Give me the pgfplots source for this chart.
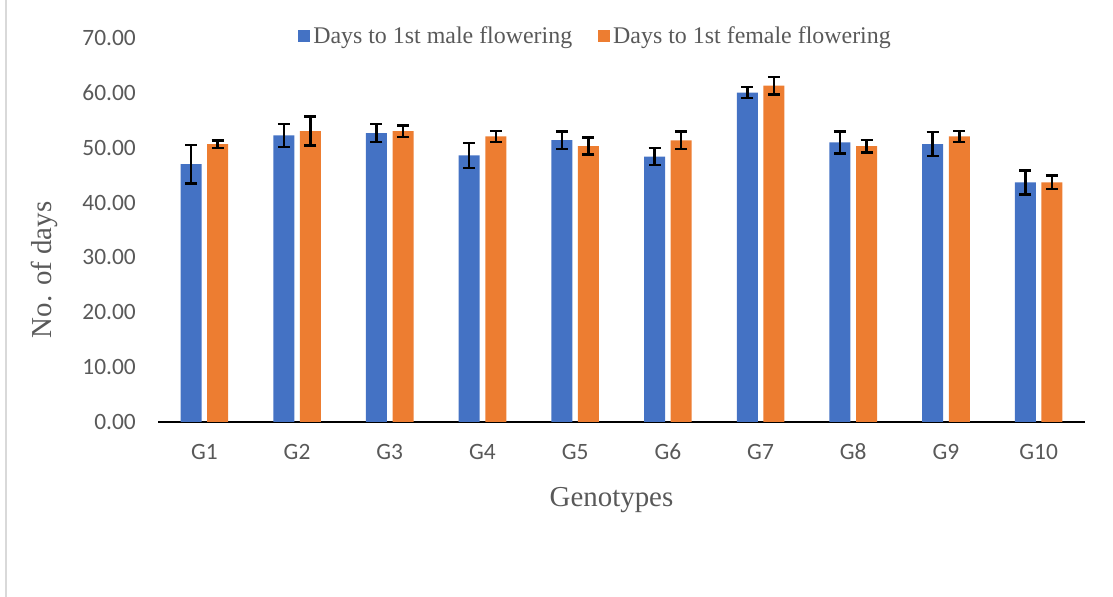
\documentclass[border=0pt]{standalone}
\usepackage{fontspec}
\setmainfont{Liberation Serif}
\newfontfamily\calibri{Carlito}
\usepackage{pgfplots}
\usepackage{pgfplotstable}
\pgfplotsset{compat=1.18}
\definecolor{cblue}{HTML}{4472C4}
\definecolor{corange}{HTML}{ED7D31}
\definecolor{textgray}{HTML}{595959}
\definecolor{framegray}{HTML}{D9D9D9}
\pgfplotstableread{
x m em f ef
0 47.00 3.50 50.67 0.68
1 52.26 2.10 53.04 2.65
2 52.68 1.60 53.04 1.05
3 48.60 2.30 52.07 1.00
4 51.40 1.60 50.30 1.55
5 48.37 1.55 51.35 1.60
6 60.03 1.00 61.30 1.60
7 50.97 2.00 50.30 1.15
8 50.67 2.15 52.07 1.00
9 43.69 2.20 43.69 1.20
}\data
\begin{document}
\begin{tikzpicture}
\useasboundingbox (0,0) rectangle (1113bp,597bp);
\draw[framegray, line width=1.5bp] (6bp,0) -- (6bp,597bp);
\begin{axis}[
  at={(158bp,175bp)}, anchor=south west,
  scale only axis, width=927bp, height=384bp,
  ybar,
  bar width=21bp,
  xmin=-0.5, xmax=9.5,
  ymin=0, ymax=70,
  ytick={0,10,...,70},
  xtick={0,...,9},
  xticklabels={G1,G2,G3,G4,G5,G6,G7,G8,G9,G10},
  axis x line*=bottom, axis y line*=left,
  x axis line style={-, black, line width=2bp},
  y axis line style={draw=none},
  major tick length=0pt,
  tick style={draw=none},
  /pgf/number format/assume math mode=true,
  yticklabel={\pgfmathprintnumber[fixed,fixed zerofill,precision=2]{\tick}},
  tick label style={font=\calibri\fontsize{23.5}{28}\selectfont, text=textgray},
  yticklabel style={anchor=east, inner sep=0pt, xshift=-22bp},
  xticklabel style={anchor=base, inner sep=0pt, yshift=-38bp},
  xlabel={Genotypes},
  ylabel={No. of days},
  label style={font=\fontsize{29}{35}\selectfont, text=textgray},
  xlabel style={at={(axis description cs:0.4892,-0.2206)}, anchor=base},
  ylabel style={at={(axis description cs:-0.1154,0.396)}, anchor=base},
  legend columns=2,
  legend style={at={(axis description cs:0.4725,1.005)}, anchor=center,
    draw=none, fill=none, font=\fontsize{24}{29}\selectfont, text=textgray,
    /tikz/every even column/.append style={column sep=23bp},
    nodes={inner sep=3bp}},
  legend image code/.code={\fill[#1] (0bp,-6bp) rectangle (12bp,6bp);},
  error bars/error bar style={line width=2.5bp, black},
  error bars/error mark options={rotate=90, mark size=6bp, line width=2.5bp, black},
]
\addplot[fill=cblue, draw=none, bar shift=-13.3bp,
  error bars/.cd, y dir=both, y explicit]
  table[x=x, y=m, y error=em] {\data};
\addplot[fill=corange, draw=none, bar shift=13.3bp,
  error bars/.cd, y dir=both, y explicit]
  table[x=x, y=f, y error=ef] {\data};
\legend{Days to 1st male flowering, Days to 1st female flowering}
\end{axis}
\end{tikzpicture}
\end{document}
